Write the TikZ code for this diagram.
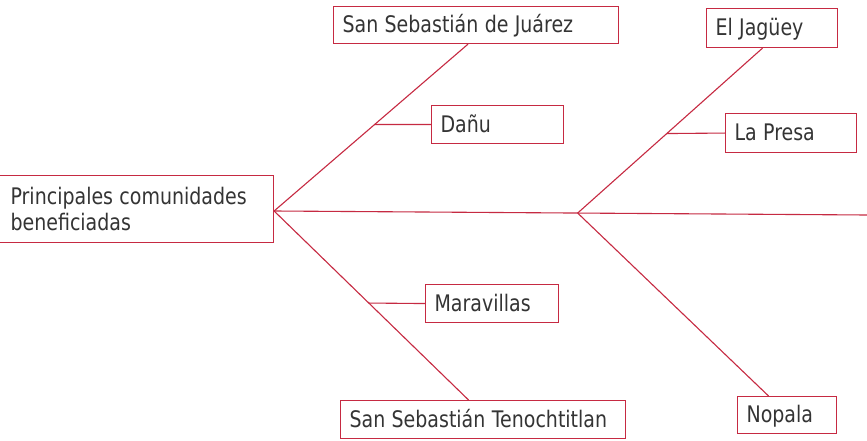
\documentclass[tikz,border=0pt]{standalone}
\usepackage{fontspec}
\setmainfont{DejaVu Sans}
\usetikzlibrary{calc}
\definecolor{linec}{RGB}{198,42,66}
\definecolor{txt}{RGB}{52,52,52}
\newcommand\tallt[1]{\scalebox{1}[1.2]{#1}}
\begin{document}
\begin{tikzpicture}[x=1pt,y=-1pt,
  box/.style={draw=linec,line width=1.1pt,rectangle,inner xsep=9pt,inner ysep=0pt,
    text height=20pt,text depth=5pt,
    anchor=north west,align=left,text=txt,font=\fontsize{19}{26}\selectfont},
  conn/.style={draw=linec,line width=1.1pt}]
\useasboundingbox (0,0) rectangle (867,441);
\fill[white] (0,0) rectangle (867,441);
% boxes
\node[box,inner xsep=15pt,text height=,text depth=,text width=248pt,minimum height=67pt] (main) at (-5,175)
  {\tallt{Principales comunidades}\\\tallt{beneficiadas}};
\node[box,text width=267pt,minimum height=37pt] (sj) at (333,6) {\tallt{San Sebastián de Juárez}};
\node[box,text width=114pt,minimum height=38pt] (dan) at (431,105) {\tallt{Dañu}};
\node[box,text width=113pt,minimum height=39pt] (jag) at (706,8) {\tallt{El Jagüey}};
\node[box,text width=113pt,minimum height=39pt] (pres) at (725,113) {\tallt{La Presa}};
\node[box,text width=115pt,minimum height=38pt] (mar) at (425,284) {\tallt{Maravillas}};
\node[box,text width=267pt,minimum height=38pt] (ten) at (340,400) {\tallt{San Sebastián Tenochtitlan}};
\node[box,text width=81pt,minimum height=37pt] (nop) at (737,396) {\tallt{Nopala}};
% spine
\coordinate (hub1) at (main.east |- 0,211);
\coordinate (rend) at (867,215);
\draw[conn] (hub1) -- (rend);
\coordinate (hub2) at ($(hub1)!0.512!(rend)$);
% branches
\coordinate (sjb) at ($(sj.south)+(-8,0)$);
\coordinate (tenb) at ($(ten.north)+(-14.5,0)$);
\coordinate (jagb) at ($(jag.south)+(-9.5,0)$);
\coordinate (nopb) at ($(nop.north)+(-18.5,0)$);
\draw[conn] (hub1) -- (sjb);
\draw[conn] (hub1) -- (tenb);
\draw[conn] (hub2) -- (jagb);
\draw[conn] (hub2) -- (nopb);
% ticks
\coordinate (tdan) at ($(hub1)!0.518!(sjb)$);
\coordinate (tpres) at ($(hub2)!0.482!(jagb)$);
\coordinate (tmar) at ($(hub1)!0.487!(tenb)$);
\draw[conn] (tdan) -- (dan.west);
\draw[conn] (tpres) -- (pres.west);
\draw[conn] (tmar) -- (mar.west);
\end{tikzpicture}
\end{document}
